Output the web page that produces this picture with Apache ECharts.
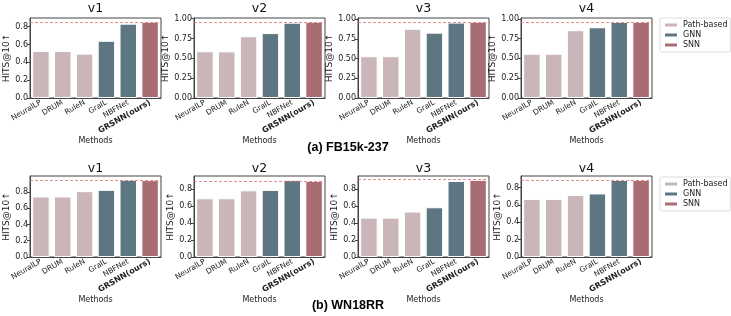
<!DOCTYPE html>
<html><head><meta charset="utf-8">
<script src="https://cdn.jsdelivr.net/npm/echarts@6/dist/echarts.min.js"></script>
<style>html,body{margin:0;padding:0;background:#fff}#c{width:731px;height:316px}</style>
</head><body><div id="c"></div>
<script>
// ---- data ----
const methods = ['NeuralLP', 'DRUM', 'RuleN', 'GraIL', 'NBFNet', 'GRSNN(ours)'];
const methodGroup = ['Path-based', 'Path-based', 'Path-based', 'GNN', 'GNN', 'SNN'];
const groupNames = ['Path-based', 'GNN', 'SNN'];
const panelTitles = ['v1', 'v2', 'v3', 'v4'];
const captions = ['(a) FB15k-237', '(b) WN18RR'];

const fbV1 = [0.529, 0.529, 0.498, 0.642, 0.834, 0.855];
const fbV2 = [0.589, 0.587, 0.778, 0.818, 0.949, 0.960];
const fbV3 = [0.529, 0.529, 0.877, 0.828, 0.955, 0.965];
const fbV4 = [0.559, 0.559, 0.856, 0.893, 0.960, 0.962];
const wnV1 = [0.744, 0.744, 0.809, 0.825, 0.948, 0.945];
const wnV2 = [0.689, 0.689, 0.782, 0.787, 0.905, 0.893];
const wnV3 = [0.462, 0.462, 0.534, 0.584, 0.893, 0.906];
const wnV4 = [0.671, 0.671, 0.716, 0.734, 0.890, 0.891];

const ticksA = [0, 0.2, 0.4, 0.6, 0.8];
const ticksB = [0, 0.25, 0.5, 0.75, 1.0];
const yLabel = 'HITS@10↑';
const xLabel = 'Methods';

// ---- build ----
const colors = {'Path-based': '#cab6b9', 'GNN': '#5d7682', 'SNN': '#a86c73'};
const panels = [
  {vals: fbV1, ticks: ticksA, dec: 1}, {vals: fbV2, ticks: ticksB, dec: 2},
  {vals: fbV3, ticks: ticksB, dec: 2}, {vals: fbV4, ticks: ticksB, dec: 2},
  {vals: wnV1, ticks: ticksA, dec: 1}, {vals: wnV2, ticks: ticksA, dec: 1},
  {vals: wnV3, ticks: ticksA, dec: 1}, {vals: wnV4, ticks: ticksA, dec: 1}
];
const lefts = [30, 194, 358, 521], W = 131;
const tops = [18, 176], Hs = [80, 81];
const FF = 'DejaVu Sans';
const frame = '#444';
const grid = [], xAxis = [], yAxis = [], series = [], title = [];

panels.forEach((p, i) => {
  const r = Math.floor(i / 4), c = i % 4;
  grid.push({left: lefts[c], top: tops[r], width: W, height: Hs[r], show: true,
    borderColor: frame, borderWidth: 1, backgroundColor: 'transparent'});
  xAxis.push({type: 'category', gridIndex: i, data: methods,
    name: xLabel, nameLocation: 'middle', nameGap: 37,
    nameTextStyle: {fontSize: 8, color: '#222', fontFamily: FF},
    axisLine: {lineStyle: {color: frame}},
    axisTick: {alignWithLabel: true, length: 3, lineStyle: {color: frame}},
    axisLabel: {interval: 0, rotate: 30, fontSize: 7.5, margin: 4, color: '#222', fontFamily: FF,
      formatter: v => v === methods[5] ? '{b|' + v + '}' : v,
      rich: {b: {fontWeight: 'bold', fontSize: 8, color: '#222', fontFamily: FF}}}
  });
  const mx = Math.max(...p.vals) * 1.05;
  yAxis.push({type: 'value', gridIndex: i, min: 0, max: mx,
    name: yLabel, nameLocation: 'middle', nameRotate: 90, nameGap: p.dec === 2 ? 18 : 16,
    nameTextStyle: {fontSize: 9, color: '#222', fontFamily: FF},
    splitLine: {show: false},
    axisLine: {show: true, lineStyle: {color: frame}},
    axisTick: {show: true, length: 3, lineStyle: {color: frame}, customValues: p.ticks},
    axisLabel: {customValues: p.ticks, formatter: v => v.toFixed(p.dec), fontSize: 8, margin: 2,
      color: '#222', fontFamily: FF}
  });
  groupNames.forEach(g => {
    const s = {type: 'bar', name: g, xAxisIndex: i, yAxisIndex: i, stack: 's' + i, barWidth: '80%',
      data: p.vals.map((v, k) => methodGroup[k] === g ? v : '-'),
      itemStyle: {color: colors[g], borderColor: '#fff', borderWidth: 1}};
    if (g === 'SNN') {
      s.markLine = {symbol: 'none', silent: true, label: {show: false},
        lineStyle: {type: [3, 2], color: '#e07070', width: 0.8},
        data: [{yAxis: p.vals[5]}]};
    }
    series.push(s);
  });
  title.push({text: panelTitles[c], left: lefts[c] + W / 2, top: r === 0 ? 2 : 162, textAlign: 'center', padding: 0,
    textStyle: {fontSize: 12.5, fontWeight: 'normal', color: '#111', fontFamily: FF}});
});
captions.forEach((t, r) => {
  title.push({text: t, left: 348, top: r === 0 ? 141 : 299, textAlign: 'center', padding: 0,
    textStyle: {fontSize: 12.5, fontWeight: 'bold', color: '#000', fontFamily: 'Liberation Sans'}});
});
const legend = [0, 1].map(r => ({
  orient: 'vertical', left: 660, top: r === 0 ? 18 : 177, data: groupNames, selectedMode: false,
  icon: 'rect', itemWidth: 14, itemHeight: 5, itemGap: 2,
  textStyle: {fontSize: 8, color: '#222', fontFamily: FF},
  borderColor: '#ddd', borderWidth: 1, borderRadius: 2, padding: [3, 3, 3, 3]
}));

const chart = echarts.init(document.getElementById('c'), null, {renderer: 'canvas'});
chart.setOption({animation: false, backgroundColor: '#fff', title, legend, grid, xAxis, yAxis, series});
</script></body></html>
